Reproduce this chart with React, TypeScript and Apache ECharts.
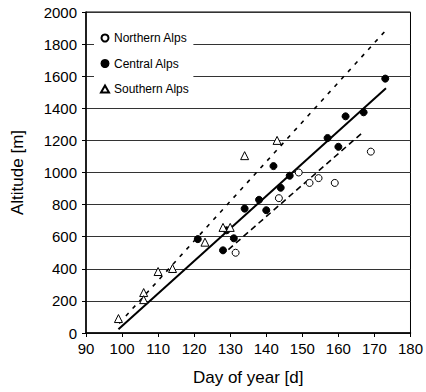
import React, { useEffect, useRef } from "react";
import * as echarts from "echarts";

const xTicks = { min: 90, max: 180, interval: 10 };
const yTicks = { min: 0, max: 2000, interval: 200 };

const northernAlps: [number, number][] = [
  [131.5, 500], [143.5, 840], [149, 1000], [152, 935], [154.5, 965], [159, 935], [169, 1130],
];
const centralAlps: [number, number][] = [
  [121, 585], [128, 515], [129, 640], [131, 590], [134, 775], [138, 830], [140, 765],
  [142, 1040], [144, 905], [146.5, 980], [157, 1215], [160, 1160], [162, 1350], [167, 1375], [173, 1585],
];
const southernAlps: [number, number][] = [
  [99, 90], [106, 252], [106, 208], [110, 383], [114, 402], [123, 566], [128, 658], [130, 658],
  [134, 1105], [143, 1200],
];
const regressionLine: [number, number][] = [[99, 23], [173.2, 1525]];
const upperBound: [number, number][] = [[99.2, 60], [172.8, 1877]];
const lowerBound: [number, number][] = [[129.5, 520], [166.5, 1245]];

const FONT = "'Liberation Sans', Arial, sans-serif";

export default function App() {
  const ref = useRef<HTMLDivElement>(null);
  useEffect(() => {
    if (!ref.current) return;
    const chart = echarts.init(ref.current, undefined, { renderer: "svg" });
    const open = { color: "#fff", borderColor: "#000", borderWidth: 1, opacity: 1 };
    chart.setOption({
      animation: false,
      backgroundColor: "#fff",
      textStyle: { fontFamily: FONT, color: "#000" },
      grid: {
        left: 86, right: 15, top: 12, bottom: 59,
        show: true, borderColor: "#000", borderWidth: 1, backgroundColor: "transparent",
      },
      legend: {
        orient: "vertical",
        left: 94,
        top: 26,
        padding: [5, 4, 5, 6],
        backgroundColor: "#fff",
        itemWidth: 8,
        itemHeight: 7,
        itemGap: 11.5,
        data: ["Northern Alps", "Central Alps", "Southern Alps"],
        textStyle: { fontFamily: FONT, fontSize: 12, color: "#000", lineHeight: 14 },
      },
      xAxis: {
        type: "value",
        min: xTicks.min, max: xTicks.max, interval: xTicks.interval,
        name: "Day of year [d]",
        nameLocation: "middle",
        nameGap: 36,
        nameTextStyle: { fontFamily: FONT, fontSize: 17, color: "#000" },
        axisLine: { show: true, onZero: false, lineStyle: { color: "#000", width: 1.5 } },
        axisTick: { show: true, inside: false, length: 4, lineStyle: { color: "#000" } },
        axisLabel: { fontFamily: FONT, fontSize: 15, color: "#000", margin: 8 },
        splitLine: { show: false },
      },
      yAxis: {
        type: "value",
        min: yTicks.min, max: yTicks.max, interval: yTicks.interval,
        name: "Altitude [m]",
        nameLocation: "middle",
        nameGap: 60,
        nameTextStyle: { fontFamily: FONT, fontSize: 17, color: "#000" },
        axisLine: { show: true, lineStyle: { color: "#000", width: 1.5 } },
        axisTick: { show: true, inside: false, length: 4, lineStyle: { color: "#000" } },
        axisLabel: { fontFamily: FONT, fontSize: 15, color: "#000", margin: 9, formatter: (v: number) => String(v) },
        splitLine: { show: true, lineStyle: { color: "#333", width: 1 } },
      },
      series: [
        {
          type: "line", data: regressionLine, showSymbol: false, symbol: "none", silent: true,
          lineStyle: { color: "#000", width: 2 }, z: 3,
        },
        {
          type: "line", data: upperBound, showSymbol: false, symbol: "none", silent: true,
          lineStyle: { color: "#000", width: 1.6, type: [4, 6] }, z: 3,
        },
        {
          type: "line", data: lowerBound, showSymbol: false, symbol: "none", silent: true,
          lineStyle: { color: "#000", width: 1.6, type: [6, 4] }, z: 3,
        },
        {
          name: "Northern Alps", type: "scatter", data: northernAlps,
          symbol: "circle", symbolSize: 7, itemStyle: open, z: 4,
        },
        {
          name: "Central Alps", type: "scatter", data: centralAlps,
          symbol: "circle", symbolSize: 7, itemStyle: { color: "#000", borderColor: "#000", borderWidth: 1, opacity: 1 }, z: 4,
        },
        {
          name: "Southern Alps", type: "scatter", data: southernAlps,
          symbol: "triangle", symbolSize: 8, itemStyle: open, z: 4,
        },
      ],
    });
    return () => chart.dispose();
  }, []);
  return <div ref={ref} style={{ width: 426, height: 392, position: "absolute", left: 0, top: 0 }} />;
}
